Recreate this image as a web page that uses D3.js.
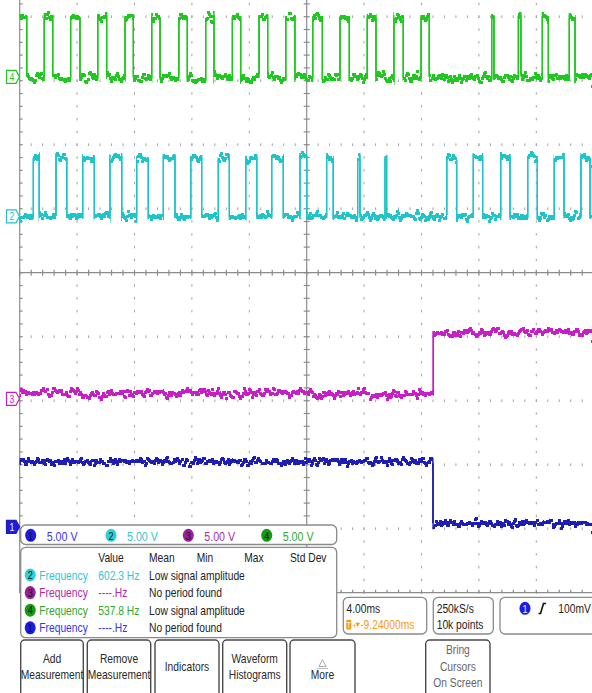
<!DOCTYPE html>
<html>
<head>
<meta charset="utf-8">
<script src="https://cdn.jsdelivr.net/npm/d3@7"></script>
<style>
    body { margin: 0; background: #fff; }
    svg text { font-family: "Liberation Sans", Arial, sans-serif; font-size: 13px; }
</style>
</head>
<body>
<div id="scope"></div>
<script>
const width = 592;
const height = 693;

// edge times in ms (screen centre = 0, 4 ms/div)
const ch4Edges = [-19.51, -18.29, -17.70, -16.45, -15.80, -14.56, -13.94, -12.66, -12.08, -10.80, -10.22,
    -8.91, -8.32, -7.04, -6.46, -5.18, -4.60, -3.32, -2.72, -1.46, -0.82, 0.42, 1.09, 2.32, 2.97,
    4.22, 4.83, 6.08, 6.73, 7.97, 8.54, 12.89, 13.05, 14.75, 14.93, 16.42, 16.84, 18.30, 18.70];
const ch2Edges = [-19.05, -18.64, -17.47, -16.72, -15.61, -14.80, -13.71, -12.89, -11.85, -11.04,
    -9.99, -9.18, -8.08, -7.32, -6.16, -5.39, -4.25, -3.48, -2.44, -1.63, -0.47, 0.00, 1.39, 1.85,
    3.55, 3.71, 5.46, 5.57, 9.76, 10.45, 11.61, 12.26, 13.52, 14.17, 15.40, 16.07, 17.25, 17.93, 19.11, 19.74];
const ch3Edges = [8.82];
const ch1Edges = [8.80];

// [low, high] levels in volts
const ch1Levels = [0.30, 5.12];
const ch2Levels = [0.00, 4.67];
const ch3Levels = [0.49, 5.25];
const ch4Levels = [0.00, 4.66];

// channel ground position in divisions, ch1..ch4
const channelOffsets = [-3.97, 0.88, -1.97, 3.06];
const channelScales = ["5.00 V", "5.00 V", "5.00 V", "5.00 V"];

const measHeaders = ["Value", "Mean", "Min", "Max", "Std Dev"];
const measSources = [2, 3, 4, 1];
const measValues = ["602.3 Hz", "----.Hz", "537.8 Hz", "----.Hz"];
const measStatus = ["Low signal amplitude", "No period found", "Low signal amplitude", "No period found"];

const buttonLabels = [["Add", "Measurement"], ["Remove", "Measurement"], ["Indicators"], ["Waveform", "Histograms"], ["More"]];

const traceColor = { 1: "#1e1eb4", 2: "#1ec4c8", 3: "#c81ec8", 4: "#1ec81e" };
const textColor = { 1: "#3535ee", 2: "#34c6d0", 3: "#ac2aac", 4: "#2ea82e" };
const badgeColor = { 1: "#1c1ce6", 2: "#2fd0d8", 3: "#9a1e9a", 4: "#149c14" };

const svg = d3.select("#scope")
    .append("svg")
    .attr("width", width)
    .attr("height", height);

const x = d3.scaleLinear().domain([-20, 20]).range([19.7, 593.7]);
const y = d3.scaleLinear().domain([-5, 5]).range([592.7, -47.3]);

const majorX = d3.range(-20, 20.001, 4);
const majorY = d3.range(-5, 5.001, 1);
const minorX = d3.range(-20, 20.001, 0.8);
const minorY = d3.range(-5, 5.001, 0.2);

// --- graticule
const grid = svg.append("g").attr("stroke", "#a4a4a4");

majorX.filter(v => v !== -20 && v !== 0 && v !== 20).forEach(v => {
    grid.selectAll(null).data(minorY).enter().append("line")
        .attr("x1", x(v)).attr("x2", x(v))
        .attr("y1", d => y(d) - 1.3).attr("y2", d => y(d) + 1.3);
});
majorY.filter(v => v !== 0 && v !== -5).forEach(v => {
    grid.selectAll(null).data(minorX).enter().append("line")
        .attr("x1", d => x(d)).attr("x2", d => x(d))
        .attr("y1", y(v) - 1.3).attr("y2", y(v) + 1.3);
});

const axes = svg.append("g").attr("stroke", "#8c8c8c").attr("stroke-width", 1.2);
// centre crosshair
axes.append("line").attr("x1", x(-20)).attr("x2", x(20)).attr("y1", y(0)).attr("y2", y(0));
axes.append("line").attr("x1", x(0)).attr("x2", x(0)).attr("y1", y(5)).attr("y2", y(-5));
axes.selectAll(null).data(minorX).enter().append("line")
    .attr("x1", d => x(d)).attr("x2", d => x(d)).attr("y1", y(0) - 3).attr("y2", y(0) + 3);
axes.selectAll(null).data(minorY).enter().append("line")
    .attr("x1", x(0) - 3).attr("x2", x(0) + 3).attr("y1", d => y(d)).attr("y2", d => y(d));
// left frame & bottom frame
axes.append("line").attr("x1", x(-20)).attr("x2", x(-20)).attr("y1", y(5)).attr("y2", y(-5));
axes.selectAll(null).data(minorY).enter().append("line")
    .attr("x1", x(-20)).attr("x2", x(-20) + 3).attr("y1", d => y(d)).attr("y2", d => y(d));
axes.append("line").attr("x1", x(-20)).attr("x2", x(20)).attr("y1", y(-5)).attr("y2", y(-5));
axes.selectAll(null).data(minorX).enter().append("line")
    .attr("x1", d => x(d)).attr("x2", d => x(d)).attr("y1", y(-5) - 3).attr("y2", y(-5));

// --- noise filters (acquisition noise look)
const defs = svg.append("defs");
[1, 2, 3, 4].forEach(ch => {
    const f = defs.append("filter")
        .attr("id", "noise" + ch)
        .attr("filterUnits", "userSpaceOnUse")
        .attr("x", 0).attr("y", 0).attr("width", width).attr("height", height)
        .attr("color-interpolation-filters", "sRGB");
    f.append("feTurbulence")
        .attr("type", "fractalNoise")
        .attr("baseFrequency", "0.36 0.004")
        .attr("numOctaves", 2)
        .attr("seed", ch * 7)
        .attr("result", "turb");
    f.append("feColorMatrix")
        .attr("in", "turb")
        .attr("type", "matrix")
        .attr("values", "0 0 0 0 0.5  1 0 0 0 0  0 0 0 0 0  0 0 0 0 1")
        .attr("result", "map");
    // neighbouring columns' displacement too, so the samples join up
    const m = f.append("feMerge").attr("result", "joined");
    [-1, 0, 1].forEach((dx, k) => {
        f.insert("feOffset", "feMerge").attr("in", "map").attr("dx", dx).attr("dy", 0).attr("result", "map" + k);
        f.insert("feDisplacementMap", "feMerge")
            .attr("in", "SourceGraphic").attr("in2", "map" + k)
            .attr("scale", 18)
            .attr("xChannelSelector", "R").attr("yChannelSelector", "G")
            .attr("result", "d" + k);
        m.append("feMergeNode").attr("in", "d" + k);
    });
    f.append("feMorphology").attr("in", "joined").attr("operator", "dilate").attr("radius", "0 0.5");
});

// --- traces
function tracePoints(edges, levels, start) {
    let s = start;
    const pts = [[-20, levels[s]]];
    edges.forEach(t => { s = 1 - s; pts.push([t, levels[s]]); });
    pts.push([20, levels[s]]);
    return pts;
}

const traces = [
    { ch: 4, pts: tracePoints(ch4Edges, ch4Levels, 1) },
    { ch: 2, pts: tracePoints(ch2Edges, ch2Levels, 0) },
    { ch: 3, pts: tracePoints(ch3Edges, ch3Levels, 0) },
    { ch: 1, pts: tracePoints(ch1Edges, ch1Levels, 1) }
];

traces.forEach(tr => {
    const off = channelOffsets[tr.ch - 1];
    const line = d3.line()
        .x(d => x(d[0]))
        .y(d => Math.round(y(off + d[1] / 5)) + 0.5)   // keep levels on a pixel row
        .curve(d3.curveStepAfter);
    svg.append("path")
        .attr("d", line(tr.pts))
        .attr("fill", "none")
        .attr("stroke", traceColor[tr.ch])
        .attr("stroke-width", 1.2)
        .attr("filter", `url(#noise${tr.ch})`);
});

// narrow readout text (scope UI font is condensed)
function label(x0, y0, str, color, anchor, size) {
    return svg.append("text")
        .attr("transform", `translate(${x0},${y0}) scale(0.79,1)`)
        .attr("text-anchor", anchor || "start")
        .style("font-size", (size || 13) + "px")
        .attr("fill", color)
        .text(str);
}

// --- ground markers on the left
[4, 2, 3, 1].forEach(ch => {
    const cy = y(channelOffsets[ch - 1]);
    const filled = ch === 1;
    svg.append("path")
        .attr("d", `M6.5,${cy - 6.5}H16L19.5,${cy}L16,${cy + 6.5}H6.5Z`)
        .attr("fill", filled ? badgeColor[1] : "#fff")
        .attr("stroke", traceColor[ch])
        .attr("stroke-width", 1.2);
    label(12, cy + 4, ch, filled ? "#fff" : traceColor[ch], "middle", 11);
});

// --- helpers
function panel(x0, y0, w, h) {
    svg.append("rect")
        .attr("x", x0).attr("y", y0).attr("width", w).attr("height", h)
        .attr("rx", 5)
        .attr("fill", "#fff")
        .attr("stroke", "#8a8a8a")
        .attr("stroke-width", 1.3);
}
function badge(cx, cy, ch, fg) {
    svg.append("ellipse").attr("cx", cx).attr("cy", cy).attr("rx", 5.5).attr("ry", 6.5)
        .attr("fill", badgeColor[ch]);
    label(cx, cy + 4.2, ch, fg || "#111", "middle", 11.5);
}

// --- vertical scale bar
panel(20.7, 525, 316, 19.5);
const scaleX = [30.7, 111, 188.3, 266.7];
channelScales.forEach((s, i) => {
    badge(scaleX[i], 535.3, i + 1);
    label(scaleX[i] + 16, 540.5, s, textColor[i + 1], "start", 13.5);
});

// --- measurement table
panel(20.7, 547.3, 316, 90.4);
const headX = [98.3, 149, 196.7, 244.3, 290];
measHeaders.forEach((h, i) => label(headX[i], 562.3, h, "#222"));
measSources.forEach((ch, i) => {
    const ry = 575 + i * 17.6;
    badge(30.2, ry, ch);
    label(39.3, ry + 4.6, "Frequency", textColor[ch]);
    label(98.3, ry + 4.6, measValues[i], textColor[ch]);
    label(149, ry + 4.6, measStatus[i], "#222");
});

// --- horizontal / acquisition / trigger readouts
panel(343.3, 597.3, 83.4, 36.7);
label(346.5, 613, "4.00ms", "#222");
svg.append("rect").attr("x", 346.3).attr("y", 619.8).attr("width", 5).attr("height", 9.8).attr("rx", 1)
    .attr("fill", "#f39c12");
label(348.8, 628.2, "T", "#fff", "middle", 8.5);
label(352.5, 628.8, "+", "#f39c12", "start", 9);
svg.append("path").attr("d", "M355.5,622.8H360L357.75,626.8Z").attr("fill", "#f39c12");
label(360.2, 629.4, "-9.24000ms", "#f39c12");

panel(433.3, 597.3, 60, 36.7);
label(436.7, 613, "250kS/s", "#222");
label(436.7, 629.4, "10k points", "#222");

panel(500, 597.3, 100, 36.7);
badge(525, 608.3, 1, "#eef");
svg.append("path").attr("d", "M538.5,613.5H540.5L543.5,603.5H546")
    .attr("fill", "none").attr("stroke", "#111").attr("stroke-width", 1.6);
label(558.3, 613, "100mV", "#222");

// --- soft buttons
const buttonX = [[20.7, 83.3], [87.3, 150.7], [155, 219], [222.7, 286.7], [290, 355]];
function button(x0, x1, lines, color, ys) {
    svg.append("rect")
        .attr("x", x0).attr("y", 640).attr("width", x1 - x0).attr("height", 60)
        .attr("rx", 4)
        .attr("fill", "#fff")
        .attr("stroke", "#4a4a4a")
        .attr("stroke-width", 1.4);
    lines.forEach((t, i) => label((x0 + x1) / 2, ys[i], t, color, "middle"));
}
buttonLabels.forEach((lines, i) => {
    const ys = lines.length === 2 ? [662.7, 679] : (i === 4 ? [679] : [670.5]);
    button(buttonX[i][0], buttonX[i][1], lines, "#2a2a2a", ys);
});
// "More" icon
svg.append("path").attr("d", "M319,666.5L322.5,659.5L326,666.5Z")
    .attr("fill", "none").attr("stroke", "#aaa").attr("stroke-width", 1);
svg.append("line").attr("x1", 317).attr("x2", 328).attr("y1", 668.5).attr("y2", 668.5)
    .attr("stroke", "#bbb");

button(425.7, 490, ["Bring", "Cursors", "On Screen"], "#666", [653.5, 670.5, 687]);
</script>
</body>
</html>
